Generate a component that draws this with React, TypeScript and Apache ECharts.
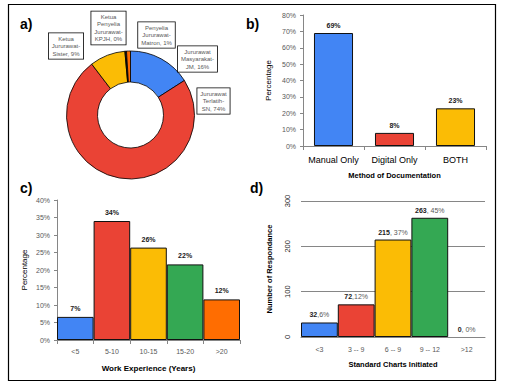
import React, { useEffect, useRef } from "react";
import * as echarts from "echarts";

// a) pie
const pieNames = [
  "Jururawat\nMasyarakat-\nJM",
  "Jururawat\nTerlatih-\nSN",
  "Ketua\nJururawat-\nSister",
  "Ketua\nPenyelia\nJururawat-\nKPJH",
  "Penyelia\nJururawat-\nMatron",
];
const pieValues = [16, 74, 9, 0.4, 1];
const pieColors = ["#4285F4", "#EA4335", "#FBBC05", "#111111", "#FF6D01"];
const pieLabelPos = [
  [197.5, 59],
  [213.5, 101],
  [66, 46],
  [108.5, 28],
  [156.5, 35],
];

// b) method of documentation
const bCats = ["Manual Only", "Digital Only", "BOTH"];
const bValues = [69, 8, 23];
const bColors = ["#4285F4", "#EA4335", "#FBBC05"];

// c) work experience
const cCats = ["<5", "5-10", "10-15", "15-20", ">20"];
const cValues = [6.6, 34, 26.4, 21.6, 11.6];
const cColors = ["#4285F4", "#EA4335", "#FBBC05", "#34A853", "#FF6D01"];

// d) standard charts initiated
const dCats = ["<3", "3 -- 9", "6 -- 9", "9 -- 12", ">12"];
const dValues = [32, 72, 215, 263, 0];
const dPct = [6, 12, 37, 45, 0];
const dSep = [",", ",", ", ", ", ", ", "];
const dColors = ["#4285F4", "#EA4335", "#FBBC05", "#34A853", "#FFFFFF"];

const FONT = "'Liberation Sans', Arial, sans-serif";
const GRAY = "#595959";
const AXIS = "#868686";

export default function App() {
  const ref = useRef<HTMLDivElement>(null);
  useEffect(() => {
    if (!ref.current) return;
    const chart = echarts.init(ref.current, undefined, { renderer: "svg" });
    const axisLabel = { color: GRAY, fontSize: 7, fontFamily: FONT, interval: 0 };
    const option: any = {
      animation: false,
      textStyle: { fontFamily: FONT },
      grid: [
        { left: 303, top: 15, right: 29, bottom: 245 },
        { left: 57, top: 200, right: 275, bottom: 51 },
        { left: 301, top: 201, right: 30, bottom: 54 },
      ],
      xAxis: [
        {
          gridIndex: 0,
          type: "category",
          data: bCats,
          axisLine: { lineStyle: { color: AXIS } },
          axisTick: { show: true, length: 4, lineStyle: { color: AXIS } },
          axisLabel: { color: "#000", fontSize: 9, fontFamily: FONT, margin: 9, interval: 0 },
          name: "Method of Documentation",
          nameLocation: "middle",
          nameGap: 25,
          nameTextStyle: { color: "#000", fontSize: 7.5, fontWeight: "bold", fontFamily: FONT },
        },
        {
          gridIndex: 1,
          type: "category",
          data: cCats,
          axisLine: { lineStyle: { color: AXIS } },
          axisTick: { show: true, length: 4, lineStyle: { color: AXIS } },
          axisLabel: { ...axisLabel, margin: 8 },
          name: "Work Experience (Years)",
          nameLocation: "middle",
          nameGap: 24,
          nameTextStyle: { color: "#000", fontSize: 8, fontWeight: "bold", fontFamily: FONT },
        },
        {
          gridIndex: 2,
          type: "category",
          data: dCats,
          axisLine: { lineStyle: { color: AXIS } },
          axisTick: { show: false },
          axisLabel: { ...axisLabel, margin: 9 },
          name: "Standard Charts Initiated",
          nameLocation: "middle",
          nameGap: 23,
          nameTextStyle: { color: "#000", fontSize: 7.5, fontWeight: "bold", fontFamily: FONT },
        },
      ],
      yAxis: [
        {
          gridIndex: 0,
          type: "value",
          min: 0,
          max: 80,
          interval: 10,
          axisLine: { show: true, lineStyle: { color: AXIS } },
          axisTick: { show: true, length: 3, lineStyle: { color: AXIS } },
          axisLabel: { ...axisLabel, formatter: "{value}%", margin: 7 },
          splitLine: { show: false },
          name: "Percentage",
          nameLocation: "middle",
          nameGap: 31,
          nameTextStyle: { color: "#000", fontSize: 8, fontFamily: FONT },
        },
        {
          gridIndex: 1,
          type: "value",
          min: 0,
          max: 40,
          interval: 5,
          axisLine: { show: true, lineStyle: { color: AXIS } },
          axisTick: { show: true, length: 3, lineStyle: { color: AXIS } },
          axisLabel: { ...axisLabel, formatter: "{value}%", margin: 7 },
          splitLine: { show: false },
          name: "Percentage",
          nameLocation: "middle",
          nameGap: 29,
          nameTextStyle: { color: "#000", fontSize: 8, fontFamily: FONT },
        },
        {
          gridIndex: 2,
          type: "value",
          min: 0,
          max: 300,
          interval: 100,
          axisLine: { show: false },
          axisTick: { show: false },
          axisLabel: { color: "#222", fontSize: 7.5, fontFamily: FONT, rotate: 90, margin: 10 },
          splitLine: { show: true, lineStyle: { color: AXIS, width: 1 } },
          name: "Number of Respondance",
          nameLocation: "middle",
          nameGap: 28,
          nameTextStyle: { color: "#000", fontSize: 7.5, fontWeight: "bold", fontFamily: FONT },
        },
      ],
      series: [
        {
          type: "pie",
          center: [130.5, 115],
          radius: [33, 64],
          startAngle: 90,
          clockwise: true,
          avoidLabelOverlap: false,
          data: pieNames.map((n, i) => ({
            name: n,
            value: pieValues[i],
            itemStyle: { color: pieColors[i] },
          })),
          itemStyle: { borderColor: "#000", borderWidth: 0.8 },
          label: {
            show: true,
            formatter: (p: any) => `${p.name}, ${Math.round(p.value)}%`,
            fontSize: 6,
            lineHeight: 7.5,
            color: GRAY,
            fontFamily: FONT,
            align: "center",
            backgroundColor: "#fff",
            borderColor: "#000",
            borderWidth: 0.8,
            padding: [2, 3, 1, 3],
          },
          labelLine: { show: false },
          labelLayout: (params: any) => ({
            x: pieLabelPos[params.dataIndex][0],
            y: pieLabelPos[params.dataIndex][1],
            align: "center",
            verticalAlign: "middle",
          }),
          emphasis: { disabled: true },
        },
        {
          type: "bar",
          xAxisIndex: 0,
          yAxisIndex: 0,
          barWidth: "64%",
          data: bValues.map((v, i) => ({ value: v, itemStyle: { color: bColors[i] } })),
          itemStyle: { borderColor: "#111", borderWidth: 1 },
          label: {
            show: true,
            position: "top",
            distance: 4,
            formatter: "{c}%",
            fontSize: 7,
            fontWeight: "bold",
            color: "#222",
            fontFamily: FONT,
          },
        },
        {
          type: "bar",
          xAxisIndex: 1,
          yAxisIndex: 1,
          barCategoryGap: 0,
          data: cValues.map((v, i) => ({ value: v, itemStyle: { color: cColors[i] } })),
          itemStyle: { borderColor: "#111", borderWidth: 1 },
          label: {
            show: true,
            position: "top",
            distance: 5,
            formatter: (p: any) => `${Math.round(p.value)}%`,
            fontSize: 7,
            fontWeight: "bold",
            color: "#222",
            fontFamily: FONT,
          },
        },
        {
          type: "bar",
          xAxisIndex: 2,
          yAxisIndex: 2,
          barCategoryGap: 0,
          data: dValues.map((v, i) => ({
            value: v,
            itemStyle: { color: dColors[i], borderColor: v === 0 ? "transparent" : "#111" },
          })),
          itemStyle: { borderWidth: 1 },
          label: {
            show: true,
            position: "top",
            distance: 4,
            formatter: (p: any) => `{a|${p.value}}{b|${dSep[p.dataIndex]}${dPct[p.dataIndex]}%}`,
            rich: {
              a: { fontSize: 7, fontWeight: "bold", color: "#222", fontFamily: FONT },
              b: { fontSize: 7, color: GRAY, fontFamily: FONT },
            },
          },
        },
      ],
      graphic: [
        {
          type: "rect",
          shape: { x: 8.5, y: 4.5, width: 487, height: 376 },
          style: { fill: "none", stroke: "#000", lineWidth: 1.2 },
          silent: true,
        },
        { type: "text", left: 20, top: 17, style: { text: "a)", font: `bold 14px ${FONT}`, fill: "#000" } },
        { type: "text", left: 246, top: 17, style: { text: "b)", font: `bold 14px ${FONT}`, fill: "#000" } },
        { type: "text", left: 20, top: 181, style: { text: "c)", font: `bold 14px ${FONT}`, fill: "#000" } },
        { type: "text", left: 250, top: 181, style: { text: "d)", font: `bold 14px ${FONT}`, fill: "#000" } },
      ],
    };
    chart.setOption(option);
    return () => chart.dispose();
  }, []);
  return (
    <div
      ref={ref}
      style={{ position: "absolute", left: 0, top: 0, width: 515, height: 391, background: "#fff" }}
    />
  );
}
